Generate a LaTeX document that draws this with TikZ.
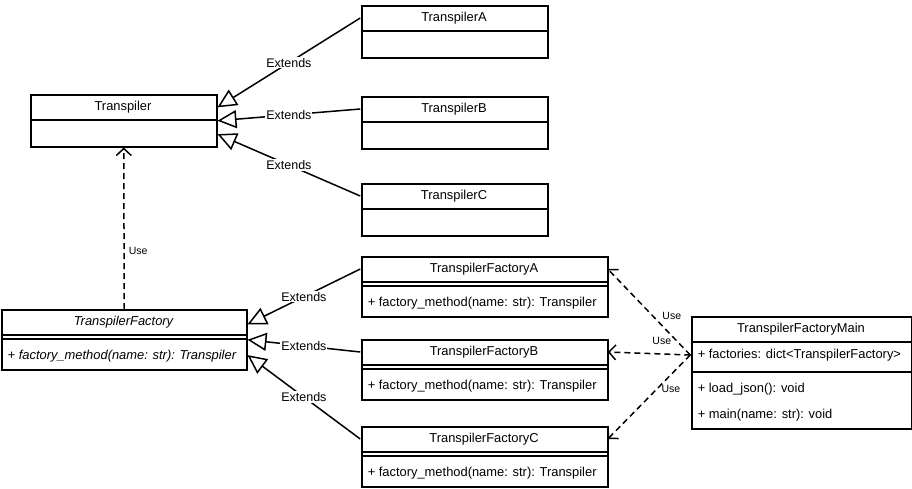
\documentclass[tikz,border=0pt]{standalone}
\usepackage{fontspec}
\setmainfont{Liberation Sans}
\usetikzlibrary{arrows.meta,calc}
\begin{document}
\begin{tikzpicture}[x=1pt,y=-1pt,line width=1.5pt,
  box/.style={draw,line width=1.5pt,anchor=north west,inner sep=0pt,fill=white},
  ttl/.style={font=\fontsize{12.9}{15}\selectfont,inner sep=0pt,minimum height=26pt},
  mtx/.style={font=\fontsize{12.9}{15}\selectfont,inner sep=0pt,anchor=west},
  elab/.style={font=\fontsize{12.5}{15}\selectfont,fill=white,inner sep=1pt},
  ulab/.style={font=\fontsize{10.5}{12}\selectfont,inner sep=0pt},
  ext/.style={-{Triangle[open,length=19pt,width=18pt,fill=white]}},
  usearrow/.style={dash pattern=on 6pt off 4pt,-{Straight Barb[length=7pt,width=15pt]}}]
\useasboundingbox (0,0) rectangle (912,488);
% Transpiler classes
\node[box,minimum width=186pt,minimum height=52pt] (tr) at (30,94) {};
\node[ttl,minimum width=186pt] (trT) at (123,107) {Transpiler};
\draw ($(tr.north west)+(0,26)$) -- ($(tr.north east)+(0,26)$);
\node[box,minimum width=186pt,minimum height=52pt] (ta) at (361,5) {};
\node[ttl,minimum width=186pt] (taT) at (454,18) {TranspilerA};
\draw ($(ta.north west)+(0,26)$) -- ($(ta.north east)+(0,26)$);
\node[box,minimum width=186pt,minimum height=52pt] (tb) at (361,96) {};
\node[ttl,minimum width=186pt] (tbT) at (454,109) {TranspilerB};
\draw ($(tb.north west)+(0,26)$) -- ($(tb.north east)+(0,26)$);
\node[box,minimum width=186pt,minimum height=52pt] (tc) at (361,183) {};
\node[ttl,minimum width=186pt] (tcT) at (454,196) {TranspilerC};
\draw ($(tc.north west)+(0,26)$) -- ($(tc.north east)+(0,26)$);
% Factory classes
\node[box,minimum width=245pt,minimum height=60pt] (tf) at (1,309) {};
\node[ttl,minimum width=245pt] (tfT) at (123.5,322) {\itshape TranspilerFactory};
\draw ($(tf.north west)+(0,26)$) -- ($(tf.north east)+(0,26)$);
\draw ($(tf.north west)+(0,30)$) -- ($(tf.north east)+(0,30)$);
\node[mtx] (tfM) at (7,356) {\itshape + factory\_method(name: str): Transpiler};
\node[box,minimum width=246pt,minimum height=60pt] (fa) at (361,256) {};
\node[ttl,minimum width=246pt] (faT) at (484,269) {TranspilerFactoryA};
\draw ($(fa.north west)+(0,26)$) -- ($(fa.north east)+(0,26)$);
\draw ($(fa.north west)+(0,30)$) -- ($(fa.north east)+(0,30)$);
\node[mtx] (faM) at (367,303) {+ factory\_method(name: str): Transpiler};
\node[box,minimum width=246pt,minimum height=60pt] (fb) at (361,339) {};
\node[ttl,minimum width=246pt] (fbT) at (484,352) {TranspilerFactoryB};
\draw ($(fb.north west)+(0,26)$) -- ($(fb.north east)+(0,26)$);
\draw ($(fb.north west)+(0,30)$) -- ($(fb.north east)+(0,30)$);
\node[mtx] (fbM) at (367,386) {+ factory\_method(name: str): Transpiler};
\node[box,minimum width=246pt,minimum height=60pt] (fc) at (361,426) {};
\node[ttl,minimum width=246pt] (fcT) at (484,439) {TranspilerFactoryC};
\draw ($(fc.north west)+(0,26)$) -- ($(fc.north east)+(0,26)$);
\draw ($(fc.north west)+(0,30)$) -- ($(fc.north east)+(0,30)$);
\node[mtx] (fcM) at (367,473) {+ factory\_method(name: str): Transpiler};
% Main class
\node[box,minimum width=220pt,minimum height=112pt] (tm) at (691,316) {};
\node[ttl,minimum width=220pt] (tmT) at (801,329) {TranspilerFactoryMain};
\draw ($(tm.north west)+(0,26)$) -- ($(tm.north east)+(0,26)$);
\node[ttl,minimum width=220pt] (tmA) at (801,355) {};
\node[mtx] (tmAt) at (697,355) {+ factories: dict<TranspilerFactory>};
\draw ($(tm.north west)+(0,56)$) -- ($(tm.north east)+(0,56)$);
\node[mtx] (tmM1) at (697,389) {+ load\_json(): void};
\node[mtx] (tmM2) at (697,415) {+ main(name: str): void};
% Extends (Transpiler)
\draw[ext] (taT.west) -- node[elab]{Extends} ($(tr.north east)!0.25!(tr.south east)$);
\draw[ext] (tbT.west) -- node[elab]{Extends} ($(tr.north east)!0.5!(tr.south east)$);
\draw[ext] (tcT.west) -- node[elab]{Extends} ($(tr.north east)!0.75!(tr.south east)$);
% Extends (TranspilerFactory)
\draw[ext] (faT.west) -- node[elab]{Extends} ($(tf.north east)!0.25!(tf.south east)$);
\draw[ext] (fbT.west) -- node[elab]{Extends} ($(tf.north east)!0.5!(tf.south east)$);
\draw[ext] (fcT.west) -- node[elab]{Extends} ($(tf.north east)!0.75!(tf.south east)$);
% Use
\draw[usearrow] (tf.north) -- node[ulab,pos=0.36,anchor=west,xshift=4pt]{Use} (tr.south);
\draw[usearrow] (tmA.west) -- node[ulab,pos=0.34,xshift=9.6pt,yshift=9.8pt]{Use} (faT.east);
\draw[usearrow] (tmA.west) -- node[ulab,pos=0.345,yshift=13pt]{Use} (fbT.east);
\draw[usearrow] (tmA.west) -- node[ulab,pos=0.32,xshift=7pt,yshift=-7pt]{Use} (fcT.east);
\end{tikzpicture}
\end{document}
